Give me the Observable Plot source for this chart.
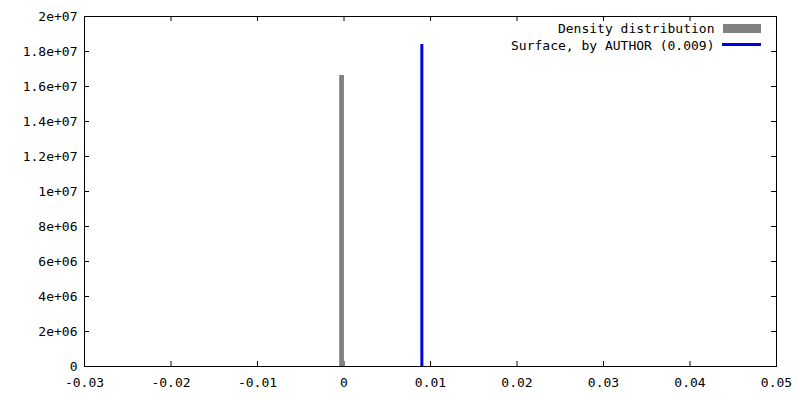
<!DOCTYPE html>
<html>
<head>
<meta charset="utf-8">
<script src="https://cdn.jsdelivr.net/npm/d3@7"></script>
<script src="https://cdn.jsdelivr.net/npm/@observablehq/plot@0.6"></script>
<style>
  html, body { margin: 0; padding: 0; background: #fff; }
</style>
</head>
<body>
<div id="chart"></div>
<script>
// Data
const xTicks = [-0.03, -0.02, -0.01, 0, 0.01, 0.02, 0.03, 0.04, 0.05];
const xTickLabels = ["-0.03", "-0.02", "-0.01", "0", "0.01", "0.02", "0.03", "0.04", "0.05"];
const yTicks = [0, 2e6, 4e6, 6e6, 8e6, 1e7, 1.2e7, 1.4e7, 1.6e7, 1.8e7, 2e7];
const yTickLabels = ["0", "2e+06", "4e+06", "6e+06", "8e+06", "1e+07", "1.2e+07", "1.4e+07", "1.6e+07", "1.8e+07", "2e+07"];

// Density distribution histogram bins
const binStart = [-0.0005];
const binEnd = [0.00005];
const binDensity = [1.663e7];

// Surface value by AUTHOR
const surfaceX = [0.009];
const surfaceHeight = [1.84e7];

const seriesNames = ["Density distribution", "Surface, by AUTHOR (0.009)"];
const seriesColors = ["#808080", "#0000e0"];

const bins = binStart.map((s, i) => ({x1: s, x2: binEnd[i], y: binDensity[i]}));
const surface = surfaceX.map((x, i) => ({x, y: surfaceHeight[i]}));

const W = 800, H = 400;
const mL = 84, mR = 24, mT = 16, mB = 34;
const plotW = W - mL - mR, plotH = H - mT - mB;
const tickLen = 5;

const svg = Plot.plot({
  width: W,
  height: H,
  marginLeft: mL,
  marginRight: mR,
  marginTop: mT,
  marginBottom: mB,
  style: {fontFamily: "'DejaVu Sans Mono', monospace", fontSize: "13px", background: "#fff", color: "#000"},
  x: {domain: [-0.03, 0.05]},
  y: {domain: [0, 2e7]},
  marks: [
    // inward ticks, bottom & top
    Plot.ruleX(xTicks, {x: d => d, insetTop: plotH - tickLen, stroke: "#000"}),
    Plot.ruleX(xTicks, {x: d => d, insetBottom: plotH - tickLen, stroke: "#000"}),
    // inward ticks, left & right
    Plot.ruleY(yTicks, {y: d => d, insetRight: plotW - tickLen, stroke: "#000"}),
    Plot.ruleY(yTicks, {y: d => d, insetLeft: plotW - tickLen, stroke: "#000"}),
    Plot.rectY(bins, {x1: "x1", x2: "x2", y: "y", fill: seriesColors[0]}),
    Plot.ruleX(surface, {x: "x", y1: 0, y2: "y", stroke: seriesColors[1], strokeWidth: 3}),
    Plot.axisX(xTicks, {tickSize: 0, tickPadding: 11, tickFormat: d => xTickLabels[xTicks.indexOf(d)], fontSize: 13, label: null}),
    Plot.axisY(yTicks, {tickSize: 0, tickPadding: 7, tickFormat: d => yTickLabels[yTicks.indexOf(d)], fontSize: 13, label: null}),
    Plot.frame({stroke: "#000"}),
    // legend labels
    Plot.text([seriesNames[0]], {text: d => d, frameAnchor: "top-right", dx: -62, dy: 12, textAnchor: "end", lineAnchor: "middle", fontSize: 13, fill: "#000"}),
    Plot.text([seriesNames[1]], {text: d => d, frameAnchor: "top-right", dx: -62, dy: 29, textAnchor: "end", lineAnchor: "middle", fontSize: 13, fill: "#000"})
  ]
});

// legend swatches
const g = d3.select(svg).append("g");
g.append("rect").attr("x", 723).attr("y", 24).attr("width", 38).attr("height", 9).attr("fill", seriesColors[0]);
g.append("line").attr("x1", 722).attr("x2", 761).attr("y1", 44.5).attr("y2", 44.5).attr("stroke", seriesColors[1]).attr("stroke-width", 3);

document.getElementById("chart").appendChild(svg);
</script>
</body>
</html>
